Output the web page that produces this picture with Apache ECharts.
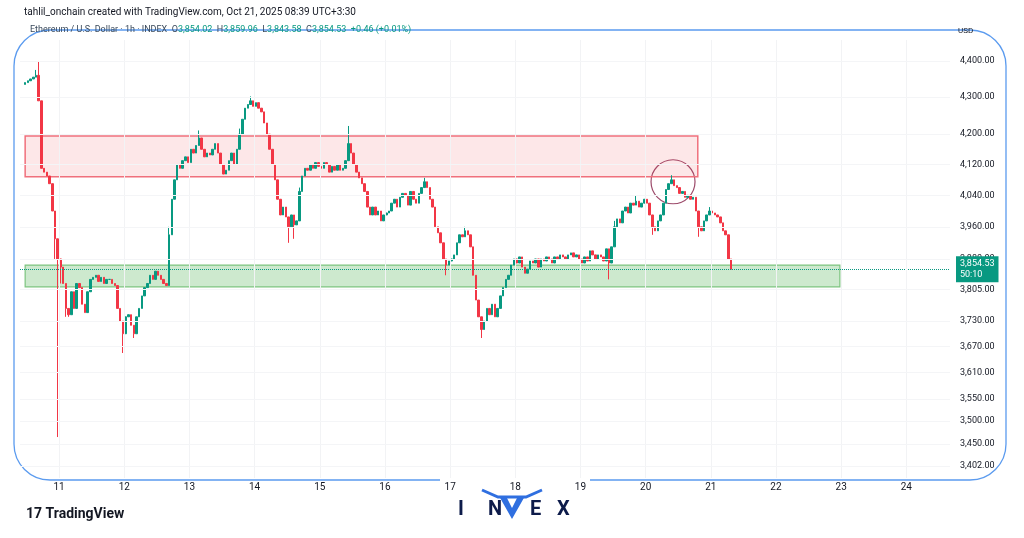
<!DOCTYPE html>
<html><head><meta charset="utf-8">
<script src="https://cdn.jsdelivr.net/npm/echarts@6/dist/echarts.min.js"></script>
<style>html,body{margin:0;padding:0;background:#fff}#c{width:1024px;height:538px}</style>
</head><body><div id="c"></div>
<script>
const startDay = 10.479; // day-of-month of first hourly candle
const closes = [4340,4345,4350,4355,4360,4290,4110,4100,4090,4070,
4000,3930,3880,3860,3820,3760,3745,3800,3760,3820,
3810,3770,3750,3800,3830,3835,3840,3825,3835,3820,
3830,3830,3820,3815,3760,3730,3700,3740,3745,3720,
3700,3740,3760,3790,3810,3820,3840,3830,3850,3840,
3830,3820,3815,3940,4030,4080,4120,4110,4130,4140,
4125,4160,4150,4170,4190,4160,4140,4150,4145,4160,
4175,4150,4120,4095,4105,4130,4150,4120,4160,4200,
4240,4270,4280,4290,4275,4285,4270,4260,4230,4200,
4160,4120,4080,4030,3990,4010,3985,3960,3990,3965,
3975,4050,4090,4110,4105,4120,4110,4125,4115,4110,
4125,4120,4100,4115,4105,4120,4105,4110,4130,4175,
4150,4120,4100,4085,4070,4050,4010,3990,4010,3990,
4000,3975,3990,3995,4000,4020,4030,4010,4035,4045,
4040,4015,4050,4030,4020,4045,4060,4075,4060,4030,
4010,3960,3945,3920,3880,3865,3875,3880,3890,3920,
3940,3935,3950,3940,3910,3840,3780,3740,3710,3730,
3760,3745,3770,3740,3760,3790,3810,3830,3840,3865,
3880,3870,3885,3860,3845,3855,3875,3870,3880,3860,
3880,3875,3885,3880,3870,3885,3880,3890,3885,3880,
3890,3895,3885,3890,3880,3870,3885,3875,3900,3890,
3880,3890,3885,3875,3905,3870,3910,3960,3980,3970,
4000,4010,3995,4020,4015,4025,4010,4020,4030,4020,
3990,3960,3950,3975,3990,4020,4055,4070,4080,4065,
4060,4045,4050,4035,4040,4030,4035,4000,3960,3950,
3975,3990,4000,3995,3990,3985,3970,3950,3940,3880,3854.53];
const firstOpen = 4335;
// notable wick extremes by candle index
const highs = {5:4400,4:4375,53:3960,64:4210,79:4215,83:4302,101:4060,119:4222,147:4085,162:3960,217:3975,238:4092,225:4040,252:4010};
const lows = {12:3465,13:3820,15:3740,36:3655,40:3690,97:3920,99:3930,155:3840,168:3690,215:3830,231:3940,248:3935,11:3880,16:3740};
const dayLabels = [11,12,13,14,15,16,17,18,19,20,21,22,23,24];
const priceTicks = [4400,4300,4200,4120,4040,3960,3880,3805,3730,3670,3610,3550,3500,3450,3402];
const lastPrice = 3854.53;
const resistZone = [4088, 4195, 20.80];
const supportZone = [3812, 3865, 22.98];
const circlePt = [20.42, 4075];

const UP='#089981', DN='#f23645';
const data = closes.map((c,i)=>{
  const o = i===0?firstOpen:closes[i-1];
  const h = highs[i]!==undefined?highs[i]:Math.max(o,c);
  const l = lows[i]!==undefined?lows[i]:Math.min(o,c);
  return [startDay+i/24, o, c, l, h];
});
const chart = echarts.init(document.getElementById('c'));
chart.setOption({
  animation:false,
  grid:{left:20,right:74,top:40,height:438},
  xAxis:{type:'value',min:10.4,max:24.67,
    axisLine:{show:false},axisTick:{show:false},splitLine:{show:false},
    axisLabel:{customValues:dayLabels,color:'#131722',fontSize:10,fontFamily:'Roboto',margin:4,formatter:v=>String(Math.round(v))}},
  yAxis:{type:'log',logBase:Math.E,min:3376,max:4459,position:'right',scale:true,
    axisLine:{show:false},axisTick:{show:false},splitLine:{show:false},
    axisLabel:{customValues:priceTicks,color:'#131722',fontSize:9,fontFamily:'Roboto',margin:10,
      formatter:v=>v.toLocaleString('en-US',{minimumFractionDigits:2,maximumFractionDigits:2})}},
  series:[{
    type:'candlestick',barWidth:2,encode:{x:0,y:[1,2,3,4]},data:data,
    itemStyle:{color:UP,color0:DN,borderColor:UP,borderColor0:DN,borderWidth:1},
    markArea:{silent:true,data:[
      [{coord:[startDay,resistZone[1]],itemStyle:{color:'rgba(242,54,69,0.12)',borderColor:'#f0707c',borderWidth:1.5}},{coord:[resistZone[2],resistZone[0]]}],
      [{coord:[startDay,supportZone[1]],itemStyle:{color:'rgba(76,175,80,0.28)',borderColor:'#7cc47f',borderWidth:1.2}},{coord:[supportZone[2],supportZone[0]]}]
    ]},
    markLine:{silent:true,symbol:'none',data:[
      {yAxis:lastPrice,lineStyle:{color:UP,type:'dotted',width:1},
       label:{position:'end',distance:6,formatter:'3,854.53\n50:10',color:'#fff',backgroundColor:UP,padding:[2,4],fontSize:9,lineHeight:11,fontFamily:'Roboto'}},
      ...dayLabels.map(d=>({xAxis:d,lineStyle:{color:'#f2f3f5',type:'solid',width:1},label:{show:false}})),
      ...priceTicks.map(p=>({yAxis:p,lineStyle:{color:'#f4f5f7',type:'solid',width:1},label:{show:false}}))
    ]}
  }]
});
const cp = chart.convertToPixel({gridIndex:0},circlePt);
const invex = [['I',458],['N',488],['E',530],['X',557]].map(([t,x])=>({type:'text',left:x,top:500,style:{text:t,fill:'#0d1b4a',font:'bold 20px Roboto'}}));
chart.setOption({graphic:[
  {type:'rect',shape:{x:14,y:30,width:992,height:450,r:36},style:{fill:'none',stroke:'#5b9bef',lineWidth:1.3},z:-1},
  {type:'rect',shape:{x:440,y:474,width:150,height:14},style:{fill:'#fff'}},
  {type:'circle',shape:{cx:cp[0],cy:cp[1],r:22},style:{fill:'none',stroke:'#9c4a6a',lineWidth:1.2}},
  {type:'text',left:24,top:7,style:{text:'tahlil_onchain created with TradingView.com, Oct 21, 2025 08:39 UTC+3:30',fill:'#131722',font:'10px Roboto'}},
  {type:'text',left:30,top:25,style:{rich:{a:{fill:'#3a4a5c',font:'9px Roboto'},b:{fill:'#089981',font:'9px Roboto'}},text:'{a|Ethereum / U.S. Dollar · 1h · INDEX  O}{b|3,854.02}{a|  H}{b|3,859.96}{a|  L}{b|3,843.58}{a|  C}{b|3,854.53  +0.46 (+0.01%)}'}},
  {type:'text',left:958,top:27,style:{text:'USD',fill:'#131722',font:'8px Roboto'}},
  {type:'text',left:26,top:507,style:{text:'17 TradingView',fill:'#131722',font:'bold 14px Roboto'}},
  ...invex,
  {type:'polygon',shape:{points:[[499,496],[512,519],[525,496],[518,496],[512,508],[506,496]]},style:{fill:'#2f6fe0'}},
  {type:'polyline',shape:{points:[[482,490],[498,497],[526,497],[542,490]]},style:{stroke:'#2f6fe0',lineWidth:3,fill:'none'}}
]});
</script></body></html>
